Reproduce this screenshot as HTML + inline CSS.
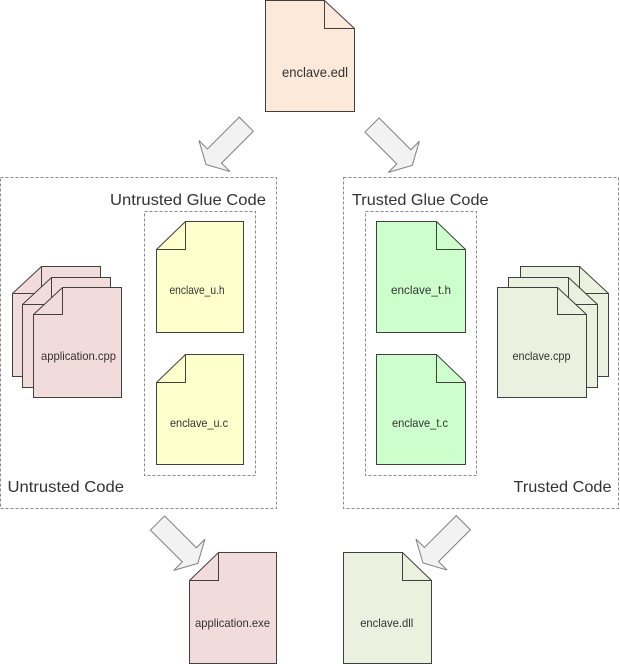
<!DOCTYPE html>
<html><head><meta charset="utf-8"><style>
html,body{margin:0;padding:0;background:#fff;}
svg{display:block;}
text{font-family:"Liberation Sans",Arial,sans-serif;fill:#333;}
</style></head><body>
<svg width="620" height="664" viewBox="0 0 620 664" xmlns="http://www.w3.org/2000/svg">
<defs>
<polygon id="arr" points="0,-10 45,-10 45,-22 57,0 45,22 45,10 0,10" fill="#f2f2f2" stroke="#808080" stroke-width="1" stroke-linejoin="miter"/>
</defs>

<!-- dashed boxes -->
<g fill="none" stroke="#8a8a8a" stroke-width="1" stroke-dasharray="3,2">
<rect x="0.5" y="177.5" width="276" height="331"/>
<rect x="343.5" y="177.5" width="275" height="331"/>
<rect x="144.5" y="211.5" width="111" height="264"/>
<rect x="365.5" y="211.5" width="111" height="264"/>
</g>

<!-- arrows -->
<use href="#arr" transform="translate(246.3,124.2) rotate(135)"/>
<use href="#arr" transform="translate(372,125) rotate(45)"/>
<use href="#arr" transform="translate(157.5,523) rotate(45)"/>
<use href="#arr" transform="translate(463.3,522.7) rotate(135)"/>

<g stroke="#404040" stroke-width="1" stroke-linejoin="miter">
<!-- enclave.edl (fold top-right) -->
<path d="M265.5 0.5 H324.5 L354.5 28.5 V111.5 H265.5 Z" fill="#fde9d9"/>
<path d="M324.5 0.5 V28.5 H354.5" fill="none"/>

<!-- application.cpp stack (fold top-left) -->
<path d="M41.5 266.5 H100.5 V376.5 H12.5 V293.5 Z" fill="#f2dcdb"/>
<path d="M41.5 266.5 V293.5 H12.5" fill="none"/>
<path d="M51.5 277.5 H110.5 V387.5 H22.5 V304.5 Z" fill="#f2dcdb"/>
<path d="M51.5 277.5 V304.5 H22.5" fill="none"/>
<path d="M62.5 287.5 H121.5 V397.5 H33.5 V314.5 Z" fill="#f2dcdb"/>
<path d="M62.5 287.5 V314.5 H33.5" fill="none"/>

<!-- enclave_u.h -->
<path d="M185.5 221.5 H243.5 V332.5 H156.5 V249.5 Z" fill="#ffffcc"/>
<path d="M185.5 221.5 V249.5 H156.5" fill="none"/>
<!-- enclave_u.c -->
<path d="M185.5 354.5 H243.5 V464.5 H156.5 V382.5 Z" fill="#ffffcc"/>
<path d="M185.5 354.5 V382.5 H156.5" fill="none"/>

<!-- enclave_t.h (fold top-right) -->
<path d="M376.5 221.5 H436.5 L465.5 249.5 V332.5 H376.5 Z" fill="#ccffcc"/>
<path d="M436.5 221.5 V249.5 H465.5" fill="none"/>
<!-- enclave_t.c -->
<path d="M376.5 354.5 H436.5 L465.5 382.5 V464.5 H376.5 Z" fill="#ccffcc"/>
<path d="M436.5 354.5 V382.5 H465.5" fill="none"/>

<!-- enclave.cpp stack (fold top-right) -->
<path d="M520.5 266.5 H579.5 L608.5 293.5 V376.5 H520.5 Z" fill="#ebf1de"/>
<path d="M579.5 266.5 V293.5 H608.5" fill="none"/>
<path d="M508.5 277.5 H568.5 L597.5 304.5 V387.5 H508.5 Z" fill="#ebf1de"/>
<path d="M568.5 277.5 V304.5 H597.5" fill="none"/>
<path d="M497.5 287.5 H557.5 L586.5 314.5 V397.5 H497.5 Z" fill="#ebf1de"/>
<path d="M557.5 287.5 V314.5 H586.5" fill="none"/>

<!-- application.exe (fold top-left) -->
<path d="M218.5 552.5 H276.5 V663.5 H189.5 V580.5 Z" fill="#f2dcdb"/>
<path d="M218.5 552.5 V580.5 H189.5" fill="none"/>
<!-- enclave.dll (fold top-right) -->
<path d="M343.5 552.5 H402.5 L431.5 580.5 V663.5 H343.5 Z" fill="#ebf1de"/>
<path d="M402.5 552.5 V580.5 H431.5" fill="none"/>
</g>

<!-- file labels -->
<g font-size="12" text-anchor="middle">
<text x="315" y="77" font-size="14" textLength="66" lengthAdjust="spacingAndGlyphs">enclave.edl</text>
<text x="78.5" y="360" textLength="75" lengthAdjust="spacingAndGlyphs">application.cpp</text>
<text x="197" y="294" textLength="55" lengthAdjust="spacingAndGlyphs">enclave_u.h</text>
<text x="199" y="427" textLength="58" lengthAdjust="spacingAndGlyphs">enclave_u.c</text>
<text x="421" y="294" textLength="60" lengthAdjust="spacingAndGlyphs">enclave_t.h</text>
<text x="420" y="427" textLength="56" lengthAdjust="spacingAndGlyphs">enclave_t.c</text>
<text x="541.5" y="360" textLength="58" lengthAdjust="spacingAndGlyphs">enclave.cpp</text>
<text x="232.5" y="627" textLength="75" lengthAdjust="spacingAndGlyphs">application.exe</text>
<text x="386.7" y="627" textLength="53" lengthAdjust="spacingAndGlyphs">enclave.dll</text>
</g>

<!-- group labels -->
<g font-size="16">
<text x="110" y="205" textLength="156" lengthAdjust="spacingAndGlyphs">Untrusted Glue Code</text>
<text x="7.5" y="492" textLength="116.5" lengthAdjust="spacingAndGlyphs">Untrusted Code</text>
<text x="352" y="205" textLength="136.5" lengthAdjust="spacingAndGlyphs">Trusted Glue Code</text>
<text x="513.5" y="492" textLength="98" lengthAdjust="spacingAndGlyphs">Trusted Code</text>
</g>
</svg>
</body></html>
